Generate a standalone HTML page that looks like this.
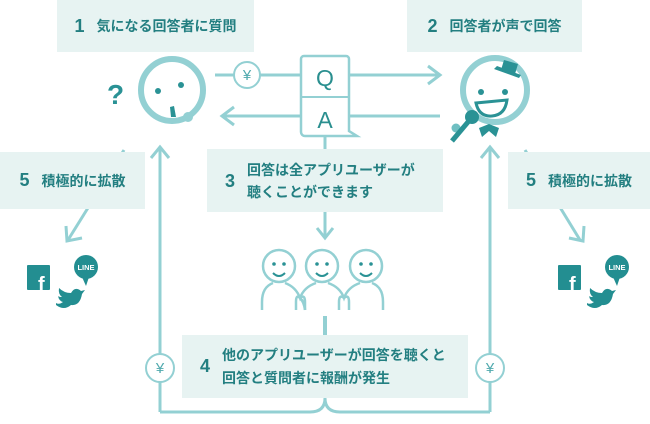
<!DOCTYPE html>
<html><head><meta charset="utf-8"><style>
body{margin:0;width:650px;height:424px;overflow:hidden;background:#fff;font-family:"Liberation Sans","Noto Sans CJK JP",sans-serif;}
.b{position:absolute;background:#e7f3f2;color:#237f81;font-weight:bold;font-size:14px;display:flex;align-items:center;}
.n{font-size:18px;margin-right:12px;}
</style></head><body>
<svg width="650" height="424" style="position:absolute;left:0;top:0">
<g fill="none" stroke="#93d0d3" stroke-width="3">
<line x1="215" y1="75" x2="234" y2="75"/><line x1="260" y1="75" x2="301" y2="75"/>
<line x1="349" y1="75" x2="440" y2="75"/><polyline points="428,66 440,75 428,84"/>
<line x1="440" y1="116" x2="349" y2="116"/><line x1="301" y1="116" x2="222" y2="116"/><polyline points="234,107 222,116 234,125"/>
<circle cx="247" cy="75" r="13" stroke-width="2"/>
<path d="M305,56 h41 a3,3 0 0 1 3,3 v72 l8,5 h-52 a4,4 0 0 1 -4,-4 v-73 a3,3 0 0 1 3,-3z" stroke-width="2.5"/>
<line x1="302" y1="97" x2="348" y2="97" stroke-width="2"/>
<circle cx="172" cy="90" r="31" stroke-width="6"/>
<circle cx="495" cy="90" r="32" stroke-width="6"/>
<line x1="160" y1="147" x2="160" y2="354"/><line x1="160" y1="382" x2="160" y2="412"/>
<polyline points="151,158 160,147 169,158"/>
<line x1="490" y1="147" x2="490" y2="354"/><line x1="490" y1="382" x2="490" y2="412"/>
<polyline points="481,158 490,147 499,158"/>
<path d="M160,412 H310 Q325,412 325,398 Q325,412 340,412 H490"/>
<circle cx="160" cy="368" r="14" stroke-width="2"/>
<circle cx="490" cy="368" r="14" stroke-width="2"/>
<line x1="325" y1="137" x2="325" y2="150"/>
<line x1="325" y1="212" x2="325" y2="237"/><polyline points="317,228 325,238 333,228"/>
<line x1="325" y1="316" x2="325" y2="335" stroke-width="4"/>
<line x1="124" y1="150" x2="68" y2="240"/><polyline points="66,226 67,241 82,238"/>
<line x1="525" y1="150" x2="580" y2="240"/><polyline points="569,238 583,241 584,226"/>
<g stroke-width="2.5">
<circle cx="279" cy="266" r="16"/><circle cx="322" cy="266" r="16"/><circle cx="366" cy="266" r="16"/>
<path d="M262,310 V302 Q262,287 273,283"/>
<path d="M285,283 Q296,287 300,298 Q304,287 316,283"/>
<path d="M328,283 Q340,287 344,298 Q348,287 360,283"/>
<path d="M372,283 Q383,287 383,302 V310"/>
<path d="M300,298 Q305,302 305,310 M300,298 Q304,302 305,310"/>
<path d="M305,310 V302 Q305,294 300,298"/>
<path d="M339,310 V302 Q339,294 344,298 M349,310 V302 Q349,294 344,298"/>
<path d="M296,310 V302 Q296,294 300,298"/>
<path d="M273,273 q6,6 12,0 M316,273 q6,6 12,0 M360,273 q6,6 12,0" stroke="#2a9295" stroke-width="2"/>
</g>
</g>
<g fill="#2a9295">
<circle cx="274" cy="264" r="1.8"/><circle cx="284" cy="264" r="1.8"/>
<circle cx="317" cy="264" r="1.8"/><circle cx="327" cy="264" r="1.8"/>
<circle cx="361" cy="264" r="1.8"/><circle cx="371" cy="264" r="1.8"/>
<circle cx="158" cy="91" r="3"/><circle cx="181" cy="85" r="3"/>
<path d="M170,107 l4,-1 l2,11 l-5,0z"/>
<circle cx="481" cy="92" r="3"/><circle cx="505" cy="92" r="3"/>
<path d="M476,103 q3,14 16,13 q13,-1 15,-16 z" fill="#fff" stroke="#2a9295" stroke-width="3"/>
<path d="M497,66 l24,9 l-2,3 l-25,-9z"/><path d="M504,60 l14,4 l-3,10 l-14,-4z"/>
<path d="M479,128 l10,-4 l10,4 l-3,9 l-7,-6 l-7,6z"/>
<text x="107" y="104" font-size="28" font-weight="bold" font-family="Liberation Sans">?</text>
</g>
<circle cx="188" cy="117" r="5" fill="#93d0d3"/>
<circle cx="456" cy="128" r="4.5" fill="#6fbfc2"/>
<line x1="468" y1="122" x2="452" y2="141" stroke="#2a9295" stroke-width="5"/>
<circle cx="472" cy="117" r="7" fill="#2a9295"/>
<g font-family="Liberation Sans" font-size="23" text-anchor="middle" fill="#2a8f8f">
<text x="325" y="86">Q</text><text x="325" y="128">A</text>
</g>
<g fill="#4fa9ad" font-size="15" text-anchor="middle" font-family="Liberation Sans">
<text x="247" y="80">¥</text><text x="160" y="373">¥</text><text x="490" y="373">¥</text>
</g>
<g fill="#238e91">
<rect x="27" y="265" width="23" height="25" rx="1"/>
<circle cx="86" cy="267" r="12"/><path d="M82,277 l4,9 l3,-9z"/>
<path d="M56,305 q8,6 15,0 q9,1 11,-11 l3,-4 l-4,1 q-6,-5 -10,2 q-7,0 -12,-5 q-1,6 3,9 q-3,0 -4,-1 q1,5 5,6 q-4,3 -7,1z"/>
<rect x="558" y="265" width="23" height="25" rx="1"/>
<circle cx="617" cy="267" r="12"/><path d="M613,277 l4,9 l3,-9z"/>
<path d="M587,305 q8,6 15,0 q9,1 11,-11 l3,-4 l-4,1 q-6,-5 -10,2 q-7,0 -12,-5 q-1,6 3,9 q-3,0 -4,-1 q1,5 5,6 q-4,3 -7,1z"/>
</g>
<g fill="#fff" font-family="Liberation Sans" font-weight="bold">
<text x="38" y="291" font-size="20">f</text><text x="569" y="291" font-size="20">f</text>
<text x="86" y="270" font-size="7.5" text-anchor="middle">LINE</text><text x="617" y="270" font-size="7.5" text-anchor="middle">LINE</text>
</g>
</svg>
<div class="b" style="left:57px;top:0;width:197px;height:52px;justify-content:center"><span class="n">1</span>気になる回答者に質問</div>
<div class="b" style="left:407px;top:0;width:175px;height:52px;justify-content:center"><span class="n">2</span>回答者が声で回答</div>
<div class="b" style="left:0;top:152px;width:145px;height:57px;justify-content:center"><span class="n">5</span>積極的に拡散</div>
<div class="b" style="left:508px;top:152px;width:142px;height:57px;justify-content:center"><span class="n">5</span>積極的に拡散</div>
<div class="b" style="left:207px;top:149px;width:236px;height:63px;padding-left:18px;box-sizing:border-box;line-height:22px"><span class="n">3</span><span>回答は全アプリユーザーが<br>聴くことができます</span></div>
<div class="b" style="left:182px;top:335px;width:286px;height:63px;padding-left:18px;box-sizing:border-box;line-height:23px"><span class="n">4</span><span>他のアプリユーザーが回答を聴くと<br>回答と質問者に報酬が発生</span></div>
</body></html>
